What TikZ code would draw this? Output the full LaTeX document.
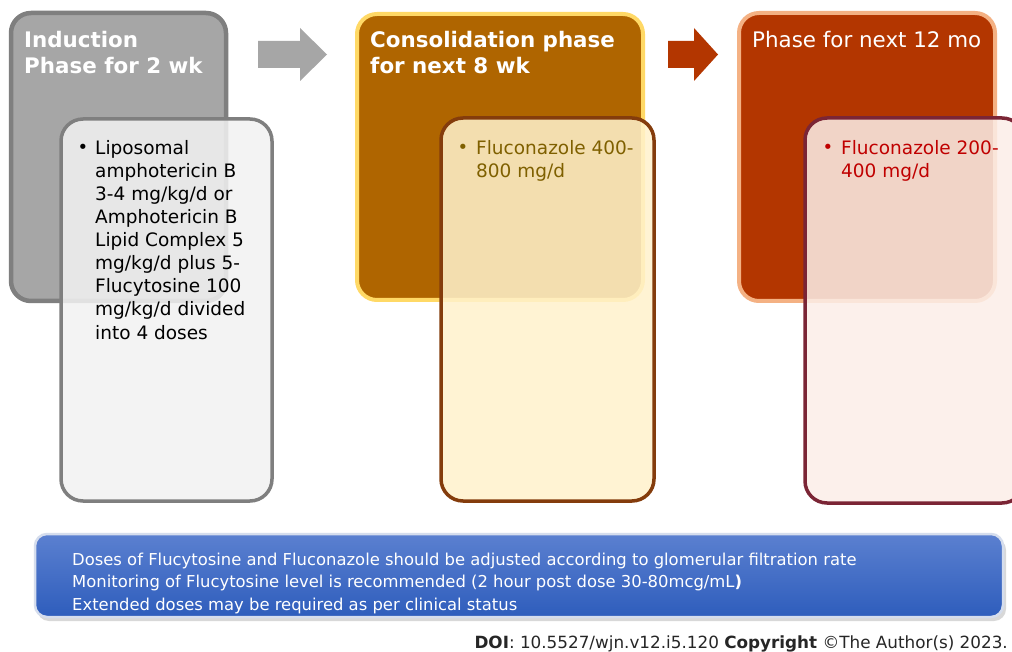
\documentclass[tikz,border=0pt]{standalone}
\usepackage{fontspec}
\setmainfont{DejaVu Sans}
\definecolor{gfill}{HTML}{A6A6A6}
\definecolor{gline}{HTML}{7F7F7F}
\definecolor{ginner}{HTML}{F2F2F2}
\definecolor{bfill}{HTML}{AF6500}
\definecolor{bline}{HTML}{FFD966}
\definecolor{binner}{HTML}{FFF2CC}
\definecolor{binline}{HTML}{843C0C}
\definecolor{btext}{HTML}{7F6000}
\definecolor{rfill}{HTML}{B33600}
\definecolor{rline}{HTML}{F4B183}
\definecolor{rinner}{HTML}{FCEEE8}
\definecolor{rinline}{HTML}{7B2535}
\definecolor{rtext}{HTML}{C00000}
\definecolor{bluetop}{HTML}{5B80D0}
\definecolor{bluebot}{HTML}{2E5DBC}
\definecolor{blueline}{HTML}{D5DDED}
\tikzset{
  outerbox/.style={rounded corners=20pt, line width=4.5pt},
  innerbox/.style={rounded corners=22pt, line width=3.5pt, fill opacity=0.86},
  ttl/.style={anchor=base west, inner sep=0pt, text=white, font=\fontsize{21.4}{26}\selectfont},
  ttlb/.style={ttl, font=\fontsize{21.4}{26}\selectfont\bfseries},
  body/.style={anchor=base west, inner sep=0pt, font=\fontsize{18.5}{23}\selectfont},
  bul/.style={anchor=base, inner sep=0pt, font=\fontsize{18}{20}\selectfont},
  note/.style={anchor=base west, inner sep=0pt, text=white, font=\fontsize{16.4}{22}\selectfont},
}
\begin{document}
\begin{tikzpicture}[x=1pt,y=-1pt]
\clip (0,0) rectangle (1012,652);
\fill[white] (0,0) rectangle (1012,652);
% Box 1
\draw[outerbox, draw=gline, fill=gfill] (11,13) rectangle (226,301);
\node[ttlb] (t1a) at (24,48) {Induction};
\node[ttlb] (t1b) at (24,74) {Phase for 2 wk};
\draw[innerbox, draw=gline, fill=ginner] (61,119) rectangle (272,501);
\node[bul] (b1) at (83,154) {•};
\foreach \t [count=\i from 0] in {Liposomal, amphotericin B, 3-4 mg/kg/d or, Amphotericin B, Lipid Complex 5, mg/kg/d plus 5-, Flucytosine 100, mg/kg/d divided, into 4 doses}
  \node[body] (p1\i) at (95,155+23*\i) {\t};
% Arrow 1
\fill[gfill] (258,41) -- (300,41) -- (300,28) -- (327,54.5) -- (300,81) -- (300,68) -- (258,68) -- cycle;
% Box 2
\draw[outerbox, draw=bline, fill=bfill, line width=4pt] (357,14) rectangle (643,300);
\node[ttlb] (t2a) at (370,48) {Consolidation phase};
\node[ttlb] (t2b) at (370,74) {for next 8 wk};
\draw[innerbox, draw=binline, fill=binner] (441,118) rectangle (654,501);
\node[bul, text=btext] (b2) at (463,154) {•};
\node[body, text=btext] (p2a) at (476,155) {Fluconazole 400-};
\node[body, text=btext] (p2b) at (476,178) {800 mg/d};
% Arrow 2
\fill[rfill] (668,41) -- (694,41) -- (694,28) -- (718,54.5) -- (694,81) -- (694,68) -- (668,68) -- cycle;
% Box 3
\draw[outerbox, draw=rline, fill=rfill, line width=4pt] (739,13) rectangle (995,301);
\node[ttl] (t3a) at (752,48) {Phase for next 12 mo};
\draw[innerbox, draw=rinline, fill=rinner] (805,118) rectangle (1024,503);
\node[bul, text=rtext] (b3) at (828,154) {•};
\node[body, text=rtext] (p3a) at (841,155) {Fluconazole 200-};
\node[body, text=rtext] (p3b) at (841,178) {400 mg/d};
% Bottom note
\fill[black!30, opacity=0.5, rounded corners=12pt] (37,538) rectangle (1006,621);
\shade[top color=bluetop, bottom color=bluebot, rounded corners=12pt] (35,534) rectangle (1003,617);
\draw[blueline, line width=2.5pt, rounded corners=12pt] (35,534) rectangle (1003,617);
\node[note] (n1) at (72,565) {Doses of Flucytosine and Fluconazole should be adjusted according to glomerular filtration rate};
\node[note] (n2) at (72,587.5) {Monitoring of Flucytosine level is recommended (2 hour post dose 30-80mcg/mL\textbf{)}};
\node[note] (n3) at (72,610) {Extended doses may be required as per clinical status};
% DOI
\node[anchor=base east, inner sep=0pt, font=\fontsize{16.8}{18}\selectfont, text=black!85] (doi) at (1008,648)
  {\textbf{DOI}: 10.5527/wjn.v12.i5.120 \textbf{Copyright} ©The Author(s) 2023.};
\end{tikzpicture}
\end{document}
